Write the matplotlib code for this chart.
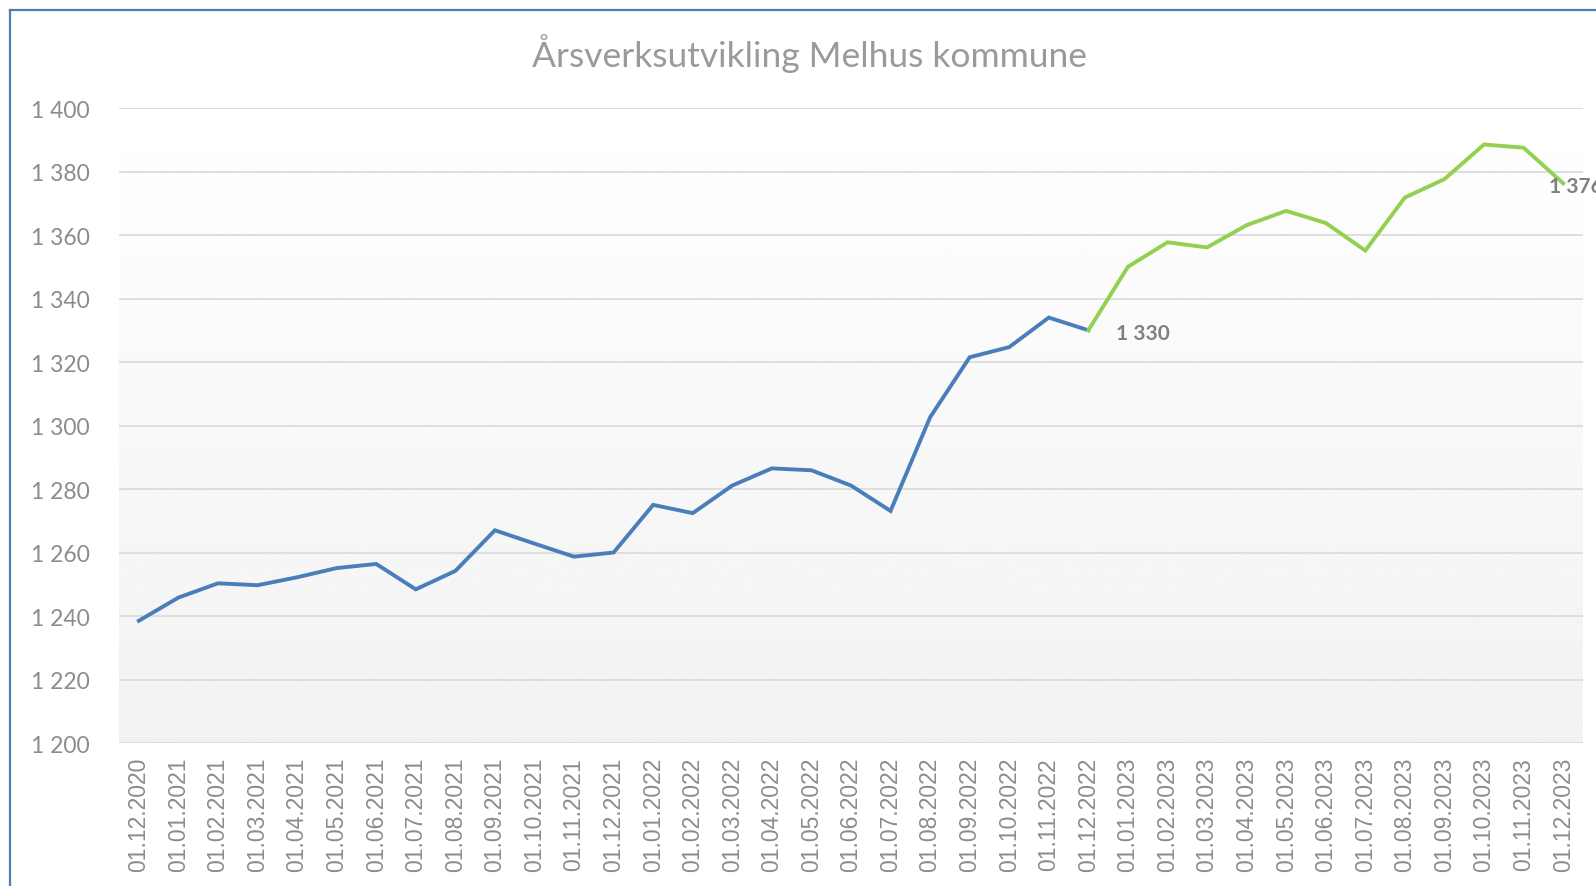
import numpy as np
import matplotlib
matplotlib.use("Agg")
import matplotlib.pyplot as plt
from matplotlib.lines import Line2D

# data
dates = ["01.12.2020", "01.01.2021", "01.02.2021", "01.03.2021", "01.04.2021",
         "01.05.2021", "01.06.2021", "01.07.2021", "01.08.2021", "01.09.2021",
         "01.10.2021", "01.11.2021", "01.12.2021", "01.01.2022", "01.02.2022",
         "01.03.2022", "01.04.2022", "01.05.2022", "01.06.2022", "01.07.2022",
         "01.08.2022", "01.09.2022", "01.10.2022", "01.11.2022", "01.12.2022",
         "01.01.2023", "01.02.2023", "01.03.2023", "01.04.2023", "01.05.2023",
         "01.06.2023", "01.07.2023", "01.08.2023", "01.09.2023", "01.10.2023",
         "01.11.2023", "01.12.2023"]
historikk = [1238.5, 1245.8, 1250.3, 1249.7, 1252.2, 1255.1, 1256.4, 1248.4,
             1254.2, 1267.0, 1262.8, 1258.7, 1260.0, 1275.0, 1272.4, 1281.1,
             1286.5, 1285.9, 1281.1, 1273.1, 1302.6, 1321.5, 1324.7, 1334.0,
             1330.0]
siste_aar = [1330.0, 1350.0, 1357.7, 1356.1, 1363.1, 1367.6, 1363.8, 1355.1,
             1371.8, 1377.6, 1388.5, 1387.5, 1376.3]
y_ticks = [1200, 1220, 1240, 1260, 1280, 1300, 1320, 1340, 1360, 1380, 1400]

grey = "#8c8c8c"
fig = plt.figure(figsize=(15.96, 8.87), dpi=100)
ax = fig.add_axes([0.0746, 0.1612, 0.9172, 0.7159])

x_hist = np.arange(len(historikk))
x_siste = np.arange(len(historikk) - 1, len(dates))

# bakgrunn med gradient
grad = np.linspace(1.0, 0.949, 256).reshape(-1, 1)
ax.imshow(grad, cmap="gray", vmin=0, vmax=1, aspect="auto",
          extent=[-0.5, len(dates) - 0.5, 1200, 1400], zorder=0)

ax.plot(x_hist, historikk, color="#4a7ebb", lw=2.8, zorder=3,
        solid_joinstyle="miter")
ax.plot(x_siste, siste_aar, color="#92d050", lw=2.8, zorder=3,
        solid_joinstyle="miter")

def fmt(v):
    return f"{v:,.0f}".replace(",", " ")

ax.annotate(fmt(historikk[-1]), (x_hist[-1], historikk[-1]),
            xytext=(20, -2), textcoords="offset points", ha="left",
            va="center", fontsize=15, fontweight="bold", color="#808080",
            family="Lato", annotation_clip=False)
ax.annotate(fmt(siste_aar[-1]), (x_siste[-1], siste_aar[-1]),
            xytext=(-10, -2), textcoords="offset points", ha="left",
            va="center", fontsize=15, fontweight="bold", color="#808080",
            family="Lato", annotation_clip=False)

ax.set_xlim(-0.5, len(dates) - 0.5)
ax.set_ylim(1200, 1400)
ax.set_yticks(y_ticks)
ax.set_yticklabels([fmt(v) for v in y_ticks], family="Lato", fontsize=16.5,
                   color=grey)
ax.set_xticks(np.arange(len(dates)))
ax.set_xticklabels(dates, rotation=90, family="Liberation Sans",
                   fontsize=16.5, color=grey)
ax.tick_params(length=0)
ax.tick_params(axis="y", pad=21)
ax.tick_params(axis="x", pad=10)
ax.grid(axis="y", color="#dedede", lw=1.4, zorder=1)
ax.set_axisbelow(False)
for s in ax.spines.values():
    s.set_visible(False)

fig.text(0.507, 0.94, "Årsverksutvikling Melhus kommune", ha="center",
         va="center", fontsize=25.5, color="#9a9a9a", family="Lato")

# ramme
fig.add_artist(Line2D([0.0065, 0.0065], [0, 0.988], color="#4a7ebb", lw=1.6))
fig.add_artist(Line2D([0.0065, 1.0], [0.988, 0.988], color="#4a7ebb", lw=1.6))

fig.savefig("out.png", dpi=100)
